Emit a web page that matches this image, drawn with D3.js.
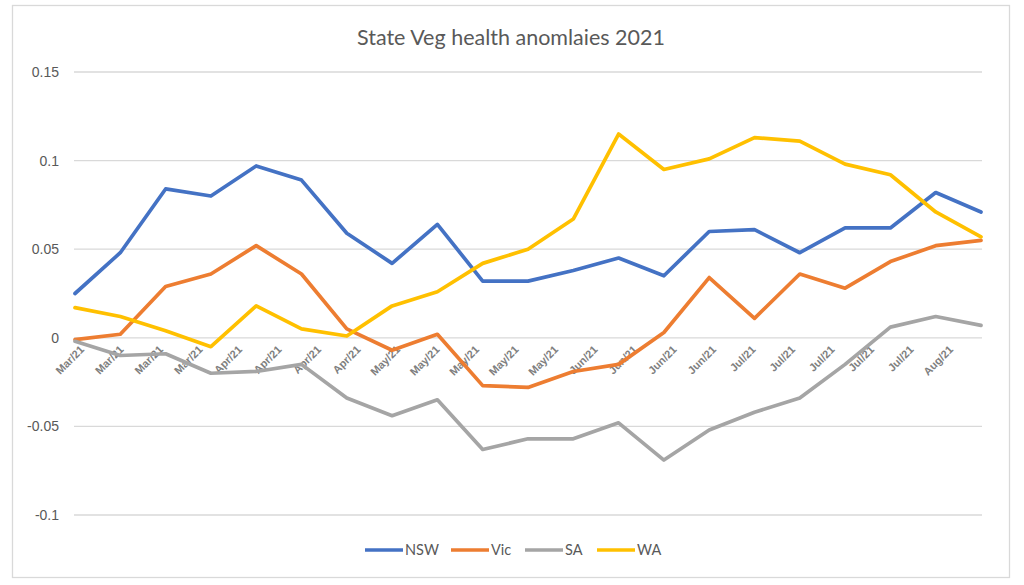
<!DOCTYPE html>
<html>
<head>
<meta charset="utf-8">
<script src="https://cdn.jsdelivr.net/npm/d3@7"></script>
<style>
  body { margin: 0; background: #fff; }
  svg { display: block; font-family: Lato, "Open Sans", sans-serif; }
  .grid line { stroke: #d9d9d9; stroke-width: 1.3; }
  .yaxis text { fill: #595959; font-size: 14px; }
  .xaxis text { fill: #7f7f7f; font-size: 11px; font-weight: bold; }
</style>
</head>
<body>
<div class="chart"></div>
<script>
var width = 1024, height = 585;

// x axis labels (as printed under the axis)
var xLabels = ["Mar/21", "Mar/21", "Mar/21", "Mar/21", "Apr/21", "Apr/21", "Apr/21", "Apr/21",
  "May/21", "May/21", "May/21", "May/21", "May/21", "Jun/21", "Jun/21", "Jun/21", "Jun/21",
  "Jul/21", "Jul/21", "Jul/21", "Jul/21", "Jul/21", "Aug/21"];

var seriesNames = ["NSW", "Vic", "SA", "WA"];
var colors = ["#4472C4", "#ED7D31", "#A5A5A5", "#FFC000"];

var nsw = [0.025, 0.048, 0.084, 0.080, 0.097, 0.089, 0.059, 0.042, 0.064, 0.032, 0.032,
  0.038, 0.045, 0.035, 0.060, 0.061, 0.048, 0.062, 0.062, 0.082, 0.071];
var vic = [-0.001, 0.002, 0.029, 0.036, 0.052, 0.036, 0.005, -0.007, 0.002, -0.027, -0.028,
  -0.019, -0.015, 0.003, 0.034, 0.011, 0.036, 0.028, 0.043, 0.052, 0.055];
var sa = [-0.002, -0.010, -0.009, -0.020, -0.019, -0.015, -0.034, -0.044, -0.035, -0.063, -0.057,
  -0.057, -0.048, -0.069, -0.052, -0.042, -0.034, -0.015, 0.006, 0.012, 0.007];
var wa = [0.017, 0.012, 0.004, -0.005, 0.018, 0.005, 0.001, 0.018, 0.026, 0.042, 0.050,
  0.067, 0.115, 0.095, 0.101, 0.113, 0.111, 0.098, 0.092, 0.071, 0.057];

var yTicks = [-0.1, -0.05, 0, 0.05, 0.1, 0.15];

var allSeries = [nsw, vic, sa, wa];

var svg = d3.select(".chart").append("svg")
  .attr("width", width)
  .attr("height", height);

// chart border
svg.append("rect")
  .attr("x", 12.5).attr("y", 5.5)
  .attr("width", 997).attr("height", 572)
  .attr("fill", "none")
  .attr("stroke", "#d9d9d9")
  .attr("stroke-width", 1.3);

var plotLeft = 74, plotRight = 982, plotTop = 72, plotBottom = 515;

var x = d3.scalePoint()
  .domain(d3.range(nsw.length))
  .range([plotLeft + 1, plotRight - 1]);

// labels sit on their own spacing in the original
var xl = d3.scalePoint()
  .domain(d3.range(xLabels.length))
  .range([79, 948]);

var y = d3.scaleLinear()
  .domain([-0.1, 0.15])
  .range([plotBottom, plotTop]);

// gridlines
svg.append("g")
  .attr("class", "grid")
  .selectAll("line")
  .data(yTicks)
  .join("line")
  .attr("x1", plotLeft).attr("x2", plotRight)
  .attr("y1", function (d) { return y(d); })
  .attr("y2", function (d) { return y(d); });

// y axis labels
var yAxis = svg.append("g")
  .attr("class", "yaxis")
  .attr("transform", "translate(" + (plotLeft - 15) + ",0)")
  .call(d3.axisLeft(y).tickValues(yTicks).tickSize(0).tickPadding(0)
    .tickFormat(function (d) { return String(+d.toFixed(2)); }));
yAxis.select(".domain").remove();

// x labels, rotated
var xAxis = svg.append("g")
  .attr("class", "xaxis")
  .attr("transform", "translate(0," + (y(0) + 7) + ")")
  .call(d3.axisBottom(xl).tickSize(0).tickFormat(function (i) { return xLabels[i]; }));
xAxis.select(".domain").remove();
xAxis.selectAll("text")
  .attr("text-anchor", "end")
  .attr("y", 0).attr("dy", "0.7em")
  .attr("transform", "rotate(-45)");

// lines
var line = d3.line()
  .x(function (d, i) { return x(i); })
  .y(function (d) { return y(d); });

svg.append("g")
  .selectAll("path")
  .data(allSeries)
  .join("path")
  .attr("fill", "none")
  .attr("stroke", function (d, i) { return colors[i]; })
  .attr("stroke-width", 3.7)
  .attr("stroke-linejoin", "round")
  .attr("stroke-linecap", "round")
  .attr("d", line);

// title
svg.append("text")
  .attr("x", 511).attr("y", 45)
  .attr("text-anchor", "middle")
  .attr("fill", "#595959")
  .attr("font-size", 21.5)
  .text("State Veg health anomlaies 2021");

// legend
var legendX = [365, 451, 525, 597];
var legend = svg.append("g")
  .selectAll("g")
  .data(seriesNames)
  .join("g")
  .attr("transform", function (d, i) { return "translate(" + legendX[i] + ",550)"; });
legend.append("line")
  .attr("x1", 0).attr("x2", 38)
  .attr("stroke", function (d, i) { return colors[i]; })
  .attr("stroke-width", 3.7);
legend.append("text")
  .attr("x", 40).attr("dy", "0.35em")
  .attr("fill", "#595959")
  .attr("font-size", 14.5)
  .text(function (d) { return d; });
</script>
</body>
</html>
